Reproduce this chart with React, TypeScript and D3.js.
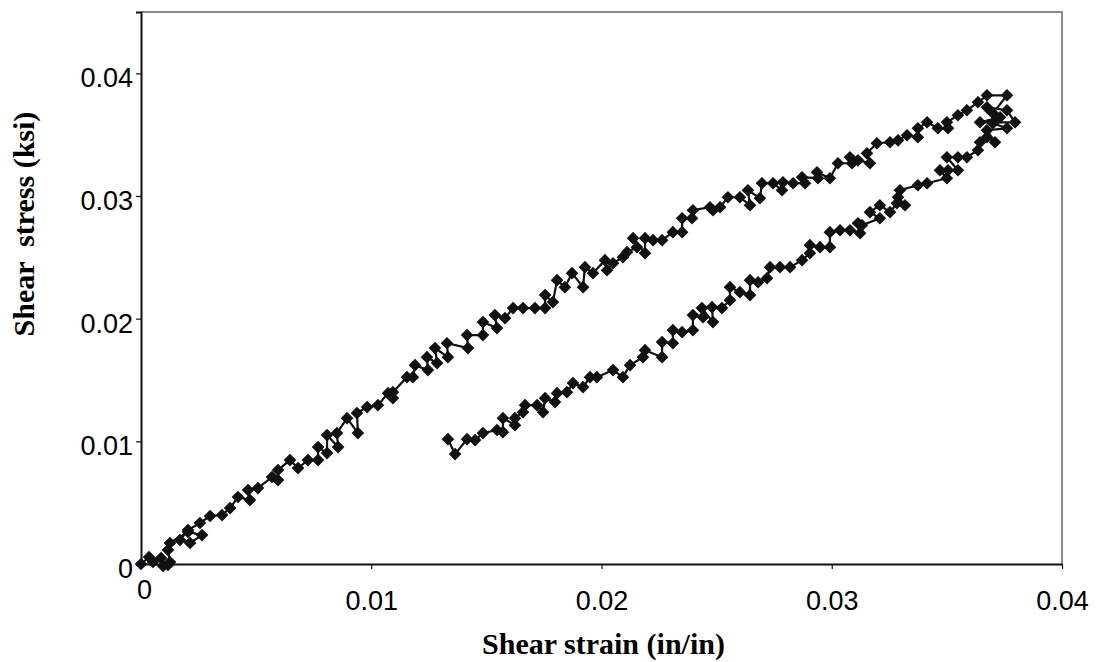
import React, { useEffect, useRef } from "react";
import * as d3 from "d3";

// shear strain (in/in), in drawing order
const strain = [
  0, 0.00035, 0.00052, 0.00087, 0.00096, 0.00117, 0.00126, 0.00117, 0.00126, 0.00204,
  0.00265, 0.00213, 0.00169, 0.00204, 0.00256, 0.003, 0.00352, 0.00387, 0.00421, 0.00473,
  0.00465, 0.00508, 0.00569, 0.00595, 0.00595, 0.00647, 0.00682, 0.00725, 0.00769, 0.00769,
  0.00808, 0.00808, 0.00856, 0.00851, 0.00895, 0.00942, 0.00938, 0.00982, 0.01029, 0.01073,
  0.01094, 0.01094, 0.01155, 0.01181, 0.0119, 0.01246, 0.01242, 0.01286, 0.01277, 0.01333,
  0.01329, 0.0142, 0.01416, 0.01485, 0.01485, 0.01546, 0.01537, 0.01581, 0.01616, 0.01659,
  0.01711, 0.01755, 0.01755, 0.01789, 0.01807, 0.01841, 0.01872, 0.0192, 0.01928, 0.01963,
  0.02015, 0.02024, 0.0205, 0.02093, 0.02111, 0.02154, 0.02137, 0.02189, 0.02189, 0.02224,
  0.02263, 0.0231, 0.0235, 0.0235, 0.02393, 0.02397, 0.02471, 0.02484, 0.02515, 0.02549,
  0.02601, 0.02645, 0.02636, 0.02688, 0.02697, 0.02745, 0.02784, 0.02788, 0.02832, 0.02884,
  0.02871, 0.0294, 0.02936, 0.02992, 0.03027, 0.03088, 0.03079, 0.03114, 0.03166, 0.03153,
  0.03196, 0.03253, 0.03288, 0.03327, 0.03374, 0.03374, 0.03414, 0.03461, 0.03505, 0.035,
  0.03548, 0.03587, 0.03635, 0.03674, 0.03761, 0.037, 0.03674, 0.03761, 0.03796, 0.03644,
  0.03731, 0.037, 0.03761, 0.03674, 0.03709, 0.03674,
  0.03644, 0.03635, 0.03587, 0.03548, 0.035, 0.03548, 0.03505, 0.0347, 0.035, 0.03414,
  0.03374, 0.03296, 0.03288, 0.03318, 0.03283, 0.03253, 0.03209, 0.03166, 0.03209, 0.03131,
  0.03114, 0.03123, 0.03079, 0.03036, 0.02992, 0.02992, 0.02949, 0.02905, 0.02905, 0.02871,
  0.02819, 0.02775, 0.02732, 0.02719, 0.0268, 0.02645, 0.02645, 0.02601, 0.02558, 0.02558,
  0.02523, 0.0248, 0.02484, 0.02436, 0.02441, 0.02397, 0.02397, 0.0235, 0.0231, 0.0231,
  0.02263, 0.02263, 0.02189, 0.0218, 0.02124, 0.02093, 0.0205, 0.0198, 0.0195, 0.0192,
  0.01876, 0.0185, 0.01807, 0.01798, 0.01755, 0.01746, 0.0172, 0.01668, 0.01659, 0.01624,
  0.01624, 0.01572, 0.01572, 0.01546, 0.01485, 0.01451, 0.01416, 0.01364, 0.01333,
];

// shear stress (ksi)
const stress = [
  0, 0.00057, 0.00016, 0.00049, -0.00016, -0.00008, 0.00016, 0.00114, 0.00171, 0.00261,
  0.00236, 0.00171, 0.00196, 0.00277, 0.00334, 0.00391, 0.00399, 0.00456, 0.00546, 0.00521,
  0.00603, 0.00619, 0.00709, 0.00684, 0.00766, 0.00847, 0.00782, 0.00847, 0.00847, 0.00953,
  0.00904, 0.01051, 0.00953, 0.01067, 0.01189, 0.01067, 0.0123, 0.01279, 0.01295, 0.01393,
  0.01352, 0.01401, 0.01523, 0.01523, 0.01621, 0.01581, 0.01686, 0.01638, 0.0176, 0.01686,
  0.018, 0.0176, 0.01866, 0.01866, 0.01972, 0.01923, 0.02029, 0.02004, 0.02086, 0.02086,
  0.02086, 0.02086, 0.02192, 0.02135, 0.02314, 0.02257, 0.02371, 0.02257, 0.0242, 0.02371,
  0.02477, 0.02395, 0.02452, 0.02501, 0.02542, 0.02583, 0.02656, 0.02534, 0.02656, 0.0264,
  0.0264, 0.02705, 0.02705, 0.02819, 0.02819, 0.02884, 0.02908, 0.02884, 0.02908, 0.0299,
  0.0299, 0.02925, 0.03047, 0.02982, 0.03104, 0.03104, 0.03047, 0.03112, 0.03104, 0.03104,
  0.03153, 0.03145, 0.03194, 0.03145, 0.03267, 0.03267, 0.03316, 0.03291, 0.03267, 0.03348,
  0.0343, 0.03438, 0.03454, 0.03495, 0.03479, 0.03552, 0.03601, 0.03552, 0.03552, 0.03601,
  0.03658, 0.03699, 0.03764, 0.03821, 0.03821, 0.03674, 0.03723, 0.03699, 0.03601, 0.03601,
  0.03642, 0.03593, 0.03552, 0.03536, 0.03438, 0.03479,
  0.03438, 0.03373, 0.03316, 0.03316, 0.03316, 0.0321, 0.0321, 0.0321, 0.03145, 0.03104,
  0.03088, 0.03047, 0.0299, 0.02925, 0.02941, 0.02868, 0.02925, 0.02868, 0.02819, 0.02762,
  0.02778, 0.02697, 0.02721, 0.02721, 0.02705, 0.02583, 0.02583, 0.02599, 0.02534, 0.02477,
  0.0242, 0.0242, 0.0242, 0.0233, 0.02297, 0.02314, 0.02192, 0.02216, 0.02257, 0.02151,
  0.02086, 0.02094, 0.01972, 0.02086, 0.02012, 0.02029, 0.01906, 0.0189, 0.01906, 0.018,
  0.01809, 0.01686, 0.01743, 0.01686, 0.01621, 0.01523, 0.01581, 0.01523, 0.01523, 0.01442,
  0.01475, 0.01401, 0.01393, 0.0132, 0.01352, 0.01238, 0.01295, 0.01295, 0.01238, 0.01189,
  0.01132, 0.01189, 0.01075, 0.01092, 0.01067, 0.0101, 0.01018, 0.00896, 0.01018,
];

const xTicks = [0, 0.01, 0.02, 0.03, 0.04];
const yTicks = [0, 0.01, 0.02, 0.03, 0.04];

const width = 1103;
const height = 662;
const margin = { top: 12, right: 41, bottom: 98, left: 141 };

const App = () => {
  const svgRef = useRef(null);

  useEffect(() => {
    const svg = d3.select(svgRef.current);
    svg.selectAll("*").remove();

    const x = d3
      .scaleLinear()
      .domain([0, 0.04])
      .range([margin.left, width - margin.right]);
    const y = d3
      .scaleLinear()
      .domain([0, 0.045])
      .range([height - margin.bottom, margin.top]);

    const points = strain.map((s, i) => ({ s, t: stress[i] }));

    // grey frame on top and right
    svg
      .append("path")
      .attr("d", `M${x(0)},${y(0.045)}H${x(0.04)}V${y(0)}`)
      .attr("fill", "none")
      .attr("stroke", "#8c8c8c")
      .attr("stroke-width", 2);

    const tickFmt = (d) => (d === 0 ? "0" : d3.format(".2f")(d));

    const gx = svg
      .append("g")
      .attr("transform", `translate(0,${y(0)})`)
      .call(
        d3.axisBottom(x).tickValues(xTicks).tickFormat(tickFmt).tickSize(5).tickSizeOuter(0)
      );
    const gy = svg
      .append("g")
      .attr("transform", `translate(${x(0)},0)`)
      .call(
        d3.axisLeft(y).tickValues(yTicks).tickFormat(tickFmt).tickSize(5).tickSizeOuter(5)
      );

    [gx, gy].forEach((g) => {
      g.select(".domain").attr("stroke", "#111").attr("stroke-width", 2);
      g.selectAll(".tick line").attr("stroke", "#111").attr("stroke-width", 1.2);
      g.selectAll("text")
        .attr("fill", "#000")
        .style("font-family", "'Liberation Sans', Arial, sans-serif")
        .style("font-size", "27px");
    });

    gx.selectAll("text").attr("dy", "1.4em");
    // Excel drew the origin label of the x axis a little higher
    gx.selectAll(".tick")
      .filter((d) => d === 0)
      .select("text")
      .attr("dy", "1.0em")
      .attr("x", 3);
    gy.selectAll("text").attr("x", -8).attr("dy", "0.5em");

    const line = d3
      .line()
      .x((d) => x(d.s))
      .y((d) => y(d.t));

    svg
      .append("path")
      .datum(points)
      .attr("fill", "none")
      .attr("stroke", "#111")
      .attr("stroke-width", 2.2)
      .attr("d", line);

    const diamond = d3.symbol().type(d3.symbolSquare).size(80);
    svg
      .append("g")
      .selectAll("path")
      .data(points)
      .enter()
      .append("path")
      .attr("d", diamond)
      .attr("transform", (d) => `translate(${x(d.s)},${y(d.t)}) rotate(45)`)
      .attr("fill", "#111");

    svg
      .append("text")
      .attr("x", (x(0) + x(0.04)) / 2 + 2)
      .attr("y", 654)
      .attr("text-anchor", "middle")
      .style("font-family", "'Liberation Serif', 'Times New Roman', serif")
      .style("font-weight", "bold")
      .style("font-size", "30px")
      .text("Shear strain (in/in)");

    svg
      .append("text")
      .attr("transform", "rotate(-90)")
      .attr("x", -224)
      .attr("y", 34)
      .attr("text-anchor", "middle")
      .style("white-space", "pre")
      .style("font-family", "'Liberation Serif', 'Times New Roman', serif")
      .style("font-weight", "bold")
      .style("font-size", "30px")
      .text("Shear  stress (ksi)");
  }, []);

  return (
    <div style={{ position: "absolute", left: 0, top: 0, background: "#fff" }}>
      <svg ref={svgRef} width={width} height={height}></svg>
    </div>
  );
};

export default App;
